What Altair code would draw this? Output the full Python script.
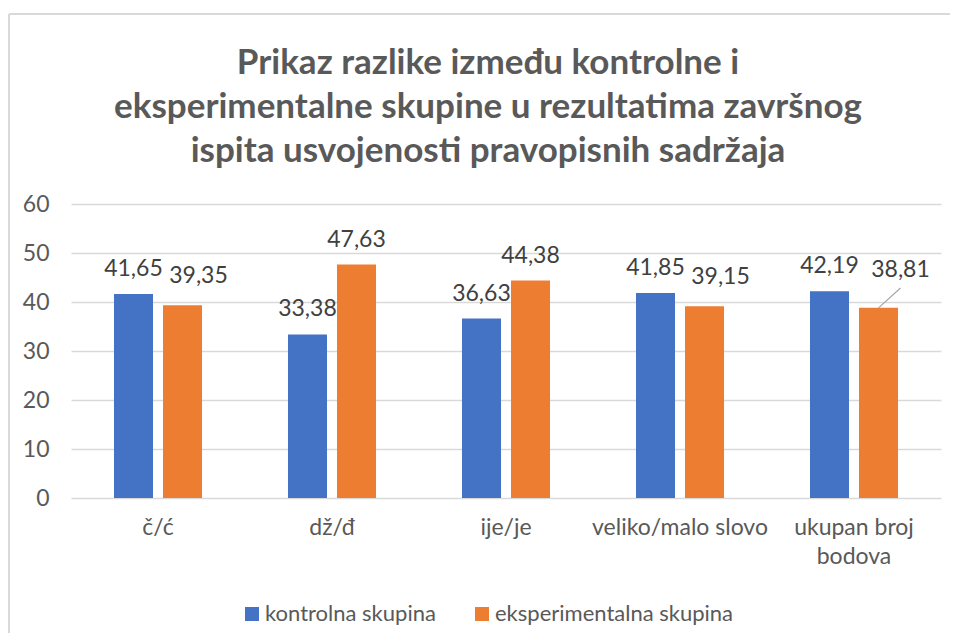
import altair as alt
import pandas as pd

categories = ["č/ć", "dž/đ", "ije/je", "veliko/malo slovo", "ukupan broj bodova"]
series = ["kontrolna skupina", "eksperimentalna skupina"]
kontrolna = [41.65, 33.38, 36.63, 41.85, 42.19]
eksperimentalna = [39.35, 47.63, 44.38, 39.15, 38.81]
# how each data label sits relative to its bar (as in the reference)
placement_kontrolna = ["above", "above", "above", "above", "above"]
placement_eksperimentalna = ["shifted", "above", "above", "shifted", "callout"]
colors = ["#4472C4", "#ED7D31"]
y_ticks = [0, 10, 20, 30, 40, 50, 60]
title_lines = [
    "Prikaz razlike između kontrolne i",
    "eksperimentalne skupine u rezultatima završnog",
    "ispita usvojenosti pravopisnih sadržaja",
]

rows = []
for s, vals, places in zip(series, [kontrolna, eksperimentalna],
                           [placement_kontrolna, placement_eksperimentalna]):
    for c, v, p in zip(categories, vals, places):
        rows.append({
            "cat": c,
            "series": s,
            "value": v,
            "label": f"{v:.2f}".replace(".", ","),
            "place": p,
        })
df = pd.DataFrame(rows)

FONT = "Lato"
TXT = "#595959"
FS = 23

x_enc = alt.X(
    "cat:N", sort=categories,
    scale=alt.Scale(paddingInner=0.494, paddingOuter=0.247),
    axis=alt.Axis(
        title=None, labelAngle=0, ticks=False, domain=False, grid=False,
        labelFontSize=FS, labelFont=FONT, labelColor=TXT, labelPadding=18,
        labelLineHeight=29, labelLimit=0, labelBaseline="top",
        labelExpr="datum.value == 'ukupan broj bodova' ? ['ukupan broj', 'bodova'] : datum.value",
    ),
)
xo_enc = alt.XOffset("series:N", sort=series, scale=alt.Scale(paddingInner=0.204, paddingOuter=0))
y_enc = alt.Y(
    "value:Q", scale=alt.Scale(domain=[0, 60], nice=False),
    axis=alt.Axis(
        values=y_ticks, title=None, ticks=False, domain=False,
        gridColor="#D9D9D9", gridWidth=1.3,
        labelFontSize=FS, labelFont=FONT, labelColor=TXT, labelPadding=22,
    ),
)

base = alt.Chart(df)

bars = base.mark_bar().encode(
    x=x_enc, xOffset=xo_enc, y=y_enc,
    color=alt.Color(
        "series:N", sort=series,
        scale=alt.Scale(domain=series, range=colors),
        legend=alt.Legend(
            orient="none", legendX=170, legendY=399, direction="horizontal",
            title=None, symbolType="square", symbolSize=196, symbolStrokeWidth=0,
            labelFontSize=22, labelFont=FONT, labelColor=TXT, labelOffset=2,
            columnPadding=35, labelLimit=0,
        ),
    ),
)


def label_layer(place, dx, dy):
    return base.mark_text(
        baseline="middle", dx=dx, dy=dy, fontSize=FS, font=FONT, color="#404040"
    ).encode(x=x_enc, xOffset=xo_enc, y=y_enc, text="label:N").transform_filter(
        alt.datum.place == place
    )


labels_above = label_layer("above", 0, -25)
labels_shifted = label_layer("shifted", 16, -29)
labels_callout = label_layer("callout", 22, -38)

leader = base.mark_point(
    shape="M0,0L1,-0.9", size=1936, filled=False, stroke="#A6A6A6",
    strokeWidth=1.2, opacity=1,
).encode(x=x_enc, xOffset=xo_enc, y=y_enc).transform_filter(alt.datum.place == "callout")

frame_data = pd.DataFrame({"k": [0]})
frame_left = alt.Chart(frame_data).mark_rule(color="#D9D9D9", strokeWidth=2).encode(
    x=alt.value(-62), y=alt.value(-190), y2=alt.value(440)
)
frame_top = alt.Chart(frame_data).mark_rule(color="#D9D9D9", strokeWidth=2).encode(
    x=alt.value(-62), x2=alt.value(880), y=alt.value(-190)
)

chart = alt.layer(
    frame_left, frame_top, bars, labels_above, labels_shifted, labels_callout, leader
).properties(
    width=870, height=294,
    title=alt.TitleParams(
        text=title_lines, fontSize=35, font=FONT, fontWeight="bold", color=TXT,
        anchor="middle", dx=-18, offset=-156, lineHeight=44,
    ),
    autosize=alt.AutoSizeParams(type="none"),
    padding={"left": 63, "top": 196, "right": 9, "bottom": 135},
).configure_view(stroke=None)

chart.save("out.html", embed_options={"renderer": "svg", "actions": False})
